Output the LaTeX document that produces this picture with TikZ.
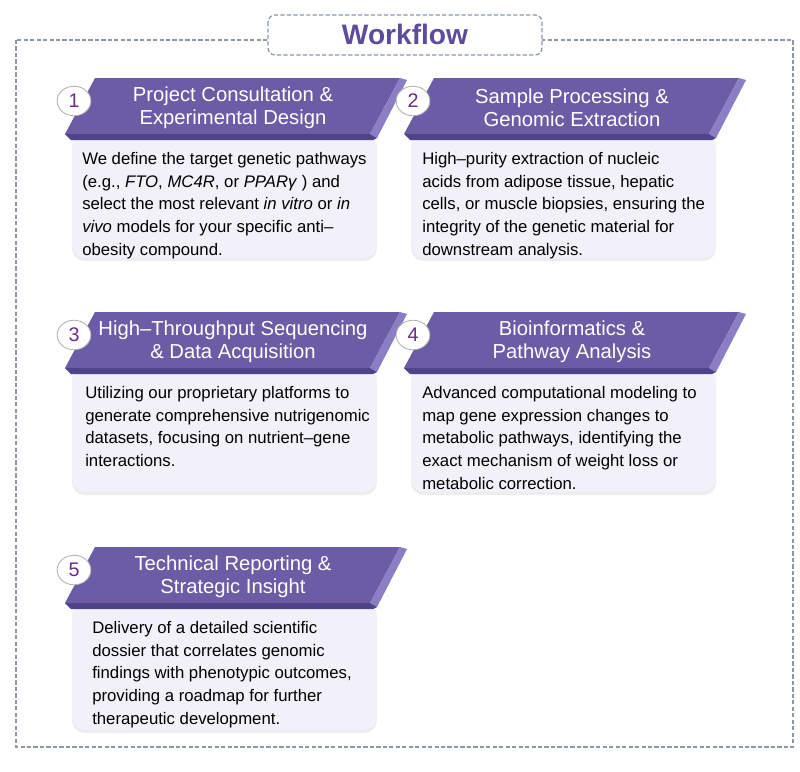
\documentclass[tikz,border=0pt]{standalone}
\usepackage{fontspec}
\setmainfont{Liberation Sans}
\usepackage{xcolor}
\usetikzlibrary{shapes.geometric}
\definecolor{wfpurple}{HTML}{6B5CA5}
\definecolor{wfbevel}{HTML}{8B7EC4}
\definecolor{wfshade}{HTML}{4F438A}
\definecolor{wfbody}{HTML}{F2F0F8}
\definecolor{wfnum}{HTML}{6A2C91}
\definecolor{wfdash}{HTML}{8C99A5}
\definecolor{wfhead}{HTML}{5E4B9E}
\tikzset{
  wfframe/.style={draw=wfdash, line width=0.9pt, dash pattern=on 3pt off 1.6pt},
  wfband/.style={fill=wfpurple, draw=none},
  wfedge/.style={fill=wfbevel, draw=none},
  wfunder/.style={fill=wfshade, draw=none},
  wfcardbox/.style={fill=wfbody, draw=none, rounded corners=9pt},
  wfshadow/.style={fill=black!7, draw=none, rounded corners=9pt},
  wfbadge/.style={ellipse, fill=white, draw=black!30, line width=0.6pt,
    minimum width=24pt, minimum height=21pt, inner sep=0pt,
    text=wfnum, font=\fontsize{14}{14}\selectfont},
  wftitle/.style={text=white, align=center, inner sep=0pt,
    font=\fontsize{14.4}{16.4}\selectfont},
  wftext/.style={anchor=north west, align=left, inner sep=0pt,
    font=\fontsize{11.9}{16.2}\selectfont},
}
% #1 name, #2 left x, #3 top y, #4 bottom of card, #5 number, #6 title, #7 text, #8 text x
\newcommand{\wfcard}[8]{%
  \fill[wfshadow] ({#2+7},{#3+64}) rectangle ({#2+312},{#4+3});
  \fill[wfcardbox] ({#2+7},{#3+55}) rectangle ({#2+312},{#4});
  \fill[wfband] ({#2+30},{#3}) -- ({#2+335},{#3}) -- ({#2+305},{#3+56}) -- ({#2},{#3+56}) -- cycle;
  \fill[wfedge] ({#2+335},{#3}) -- ({#2+342},{#3+2}) -- ({#2+312},{#3+60}) -- ({#2+305},{#3+56}) -- cycle;
  \fill[wfunder] ({#2},{#3+56}) -- ({#2+305},{#3+56}) -- ({#2+312},{#3+60}) -- ({#2+308},{#3+62}) -- ({#2+6},{#3+62}) -- cycle;
  \node[wfbadge] (#1-num) at ({#2+9},{#3+23}) {#5};
  \node[wftitle] (#1-title) at ({#2+168},{#3+30}) {#6};
  \node[wftext] (#1-text) at ({#8},{#3+74}) {#7};
}

\begin{document}
\begin{tikzpicture}[x=0.025cm, y=-0.025cm]
\useasboundingbox (0,0) rectangle (800,771);
% outer frame and heading
\draw[wfframe] (16,40) rectangle (793,747);
\draw[wfframe, fill=white, rounded corners=5pt] (268,15) rectangle (542,55);
\node[text=wfhead, font=\fontsize{20}{20}\selectfont\bfseries] (wf-head) at (405,34) {Workflow};
% steps
\wfcard{consult}{65}{78}{258}{1}{Project Consultation \&\\Experimental Design}
  {We define the target genetic pathways\\(e.g., \textit{FTO}, \textit{MC4R}, or \textit{PPARγ} ) and\\select the most relevant \textit{in vitro} or \textit{in}\\\textit{vivo} models for your specific anti–\\obesity compound.}{82}
\wfcard{extract}{404}{78}{258}{2}{Sample Processing \&\\Genomic Extraction}
  {High–purity extraction of nucleic\\acids from adipose tissue, hepatic\\cells, or muscle biopsies, ensuring the\\integrity of the genetic material for\\downstream analysis.}{422}
\wfcard{sequence}{65}{312}{492}{3}{High–Throughput Sequencing\\\& Data Acquisition}
  {Utilizing our proprietary platforms to\\generate comprehensive nutrigenomic\\datasets, focusing on nutrient–gene\\interactions.}{85}
\wfcard{bioinfo}{404}{312}{492}{4}{Bioinformatics \&\\Pathway Analysis}
  {Advanced computational modeling to\\map gene expression changes to\\metabolic pathways, identifying the\\exact mechanism of weight loss or\\metabolic correction.}{422}
\wfcard{report}{65}{547}{730}{5}{Technical Reporting \&\\Strategic Insight}
  {Delivery of a detailed scientific\\dossier that correlates genomic\\findings with phenotypic outcomes,\\providing a roadmap for further\\therapeutic development.}{92}
\end{tikzpicture}
\end{document}
